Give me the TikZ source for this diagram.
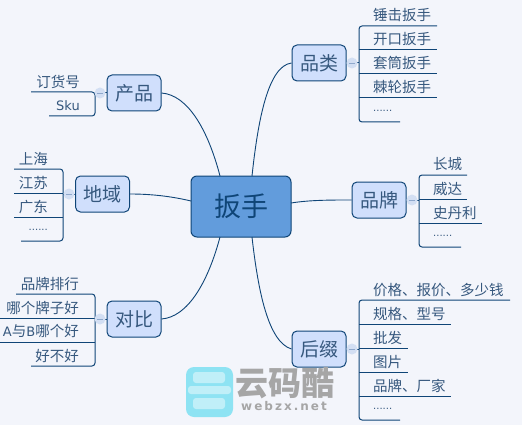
\documentclass[tikz,border=0pt]{standalone}
\usepackage{fontspec}
\setmainfont{Noto Sans CJK SC}
\newfontfamily\latinf{DejaVu Sans}
\definecolor{bgc}{HTML}{F3F5FB}
\definecolor{linec}{HTML}{0F4577}
\definecolor{branchc}{HTML}{D0DFFC}
\definecolor{centerc}{HTML}{629CDC}
\definecolor{textc}{HTML}{36587E}
\definecolor{togglec}{HTML}{D3DFF3}
\definecolor{markc}{HTML}{8FA8CC}
\definecolor{wmgray}{HTML}{A6A6A6}
\definecolor{wmicon}{HTML}{8EE3F3}
\tikzset{
  x=1pt,y=-1pt,
  centerbox/.style={draw=linec,line width=1pt,fill=centerc,rounded corners=6pt,minimum width=100pt,minimum height=61pt,inner sep=0pt,font=\fontsize{27}{27}\selectfont,text=linec},
  branchbox/.style={draw=linec,line width=1pt,fill=branchc,rounded corners=5pt,minimum width=54pt,minimum height=36pt,inner sep=0pt,font=\fontsize{19}{19}\selectfont,text=textc},
  leafr/.style={anchor=west,inner sep=0pt,font=\fontsize{14.5}{15}\selectfont,text=textc},
  leafl/.style={anchor=east,inner sep=0pt,font=\fontsize{14.5}{15}\selectfont,text=textc},
  dotsr/.style={anchor=west,inner sep=0pt,font=\latinf\fontsize{10}{10}\selectfont,text=textc},
  dotsl/.style={anchor=east,inner sep=0pt,font=\latinf\fontsize{10}{10}\selectfont,text=textc},
  togglemark/.style={circle,fill=togglec,minimum size=11pt,inner sep=0pt},
  tie/.style={draw=linec,line width=1pt},
  bracket/.style={draw=linec,line width=1pt,rounded corners=3pt},
  curvelink/.style={draw=linec,line width=0.9pt},
}
\begin{document}
\begin{tikzpicture}
\useasboundingbox (0,0) rectangle (522,425);
\fill[bgc] (0,0) rectangle (522,425);

% main nodes
\node[centerbox] (c) at (241,206.5) {扳手};
\node[branchbox] (pinlei) at (319,63) {品类};
\node[branchbox] (pinpai) at (379,200) {品牌};
\node[branchbox] (houzhui) at (319,349) {后缀};
\node[branchbox] (chanpin) at (134,93) {产品};
\node[branchbox] (diyu) at (102.5,194) {地域};
\node[branchbox] (duibi) at (134,319) {对比};

% curves
\coordinate (ct) at (252,176); \coordinate (ctl) at (220,176);
\coordinate (cb) at (252,237); \coordinate (cbl) at (220,237);
\coordinate (cl) at (191,201); \coordinate (cr) at (291,203);
\draw[curvelink] (ct) .. controls (258,120) and (268,66) .. (pinlei.west);
\draw[curvelink] (chanpin.east) .. controls (188,95) and (208,130) .. (ctl);
\draw[curvelink] (diyu.east) .. controls (150,194) and (170,196) .. (cl);
\draw[curvelink] (cr) .. controls (310,200) and (330,200) .. (pinpai.west);
\draw[curvelink] (duibi.east) .. controls (188,317) and (208,282) .. (cbl);
\draw[curvelink] (cb) .. controls (258,290) and (268,342) .. (houzhui.west);

% 品类
\coordinate (a1s) at (359,26); \coordinate (a1e) at (437,26);
\coordinate (a2s) at (359,50); \coordinate (a2e) at (437,50);
\coordinate (a3s) at (359,74); \coordinate (a3e) at (437,74);
\coordinate (a4s) at (359,98); \coordinate (a4e) at (437,98);
\coordinate (a5s) at (359,122); \coordinate (a5e) at (400,122);
\coordinate (aj) at (359,63);
\node[leafr] (a1) at (373,15) {锤击扳手};
\node[leafr] (a2) at (373,39) {开口扳手};
\node[leafr] (a3) at (373,63) {套筒扳手};
\node[leafr] (a4) at (373,87) {棘轮扳手};
\node[dotsr] (a5) at (373,111) {......};
\draw[bracket] (a1e) -- (a1s) -- (a5s) -- (a5e);
\draw[tie] (a2s) -- (a2e); \draw[tie] (a3s) -- (a3e); \draw[tie] (a4s) -- (a4e);
\draw[tie] (pinlei.east) -- (aj);
\node[togglemark] (at) at (352,63) {};
\draw[markc,line width=0.7pt] (at.west) ++(2.5,0) -- ++(6,0);

% 品牌
\coordinate (b1s) at (419,175); \coordinate (b1e) at (467,175);
\coordinate (b2s) at (419,199); \coordinate (b2e) at (467,199);
\coordinate (b3s) at (419,223); \coordinate (b3e) at (482,223);
\coordinate (b4s) at (419,247); \coordinate (b4e) at (461,247);
\coordinate (bj) at (419,200);
\node[leafr] (b1) at (433,164) {长城};
\node[leafr] (b2) at (433,189) {威达};
\node[leafr] (b3) at (433,213) {史丹利};
\node[dotsr] (b4) at (433,236) {......};
\draw[bracket] (b1e) -- (b1s) -- (b4s) -- (b4e);
\draw[tie] (b2s) -- (b2e); \draw[tie] (b3s) -- (b3e);
\draw[tie] (pinpai.east) -- (bj);
\node[togglemark] (bt) at (412,200) {};
\draw[markc,line width=0.7pt] (bt.west) ++(2.5,0) -- ++(6,0);

% 后缀
\coordinate (h1s) at (359,300); \coordinate (h1e) at (510,300);
\coordinate (h2s) at (359,324); \coordinate (h2e) at (451,324);
\coordinate (h3s) at (359,348); \coordinate (h3e) at (408,348);
\coordinate (h4s) at (359,372); \coordinate (h4e) at (408,372);
\coordinate (h5s) at (359,396); \coordinate (h5e) at (451,396);
\coordinate (h6s) at (359,420); \coordinate (h6e) at (400,420);
\coordinate (hj) at (359,349);
\node[leafr] (h1) at (373,290) {价格、报价、多少钱};
\node[leafr] (h2) at (373,314) {规格、型号};
\node[leafr] (h3) at (373,338) {批发};
\node[leafr] (h4) at (373,362) {图片};
\node[leafr] (h5) at (373,386) {品牌、厂家};
\node[dotsr] (h6) at (373,409) {......};
\draw[bracket] (h1e) -- (h1s) -- (h6s) -- (h6e);
\draw[tie] (h2s) -- (h2e); \draw[tie] (h3s) -- (h3e); \draw[tie] (h4s) -- (h4e); \draw[tie] (h5s) -- (h5e);
\draw[tie] (houzhui.east) -- (hj);
\node[togglemark] (ht) at (352,349) {};
\draw[markc,line width=0.7pt] (ht.west) ++(2.5,0) -- ++(6,0);

% 产品
\coordinate (p1s) at (95,92); \coordinate (p1e) at (31,92);
\coordinate (p2s) at (95,116); \coordinate (p2e) at (49,116);
\coordinate (pj) at (95,93);
\node[leafl] (p1) at (80,82) {订货号};
\node[leafl] (p2) at (80,106) {\latinf\fontsize{13}{13}\selectfont Sku};
\draw[bracket] (p1e) -- (p1s) -- (p2s) -- (p2e);
\draw[tie] (chanpin.west) -- (pj);
\node[togglemark] (pt) at (100,93) {};
\draw[markc,line width=0.7pt] (pt.west) ++(2.5,0) -- ++(6,0);

% 地域
\coordinate (d1s) at (63,169); \coordinate (d1e) at (14,169);
\coordinate (d2s) at (63,193); \coordinate (d2e) at (14,193);
\coordinate (d3s) at (63,217); \coordinate (d3e) at (14,217);
\coordinate (d4s) at (63,241); \coordinate (d4e) at (21,241);
\coordinate (dj) at (63,194);
\node[leafl] (d1) at (48,159) {上海};
\node[leafl] (d2) at (48,183) {江苏};
\node[leafl] (d3) at (48,207) {广东};
\node[dotsl] (d4) at (48,230) {......};
\draw[bracket] (d1e) -- (d1s) -- (d4s) -- (d4e);
\draw[tie] (d2s) -- (d2e); \draw[tie] (d3s) -- (d3e);
\draw[tie] (diyu.west) -- (dj);
\node[togglemark] (dt) at (69,194) {};
\draw[markc,line width=0.7pt] (dt.west) ++(2.5,0) -- ++(6,0);

% 对比
\coordinate (v1s) at (95,294); \coordinate (v1e) at (16,294);
\coordinate (v2s) at (95,318); \coordinate (v2e) at (0,318);
\coordinate (v3s) at (95,342); \coordinate (v3e) at (0,342);
\coordinate (v4s) at (95,366); \coordinate (v4e) at (31,366);
\coordinate (vj) at (95,319);
\node[leafl] (v1) at (79,284) {品牌排行};
\node[leafl] (v2) at (79,308) {哪个牌子好};
\node[leafl] (v3) at (79,331) {{\latinf\fontsize{13}{13}\selectfont A}与{\latinf\fontsize{13}{13}\selectfont B}哪个好};
\node[leafl] (v4) at (79,356) {好不好};
\draw[bracket] (v1e) -- (v1s) -- (v4s) -- (v4e);
\draw[tie] (v2s) -- (v2e); \draw[tie] (v3s) -- (v3e);
\draw[tie] (duibi.west) -- (vj);
\node[togglemark] (vt) at (100,319) {};
\draw[markc,line width=0.7pt] (vt.west) ++(2.5,0) -- ++(6,0);

% watermark
\fill[rounded corners=8pt,fill=wmicon] (186,367) rectangle (233,417);
\fill[rounded corners=3pt,fill=white,opacity=.45] (193,372) rectangle (225,383);
\fill[rounded corners=3pt,fill=white,opacity=.45] (188,386) rectangle (231,394);
\fill[rounded corners=3pt,fill=white,opacity=.45] (193,398) rectangle (225,409);
\node[anchor=center,inner sep=0pt,text=wmgray,font=\fontsize{33}{33}\selectfont\bfseries] (wm1) at (285,383) {云码酷};
\node[anchor=center,inner sep=0pt,text=wmgray,font=\latinf\fontsize{12}{12}\selectfont\bfseries] (wm2) at (284,406) {w\kern2pt e\kern2pt b\kern2pt z\kern2pt x\kern2pt .\kern2pt n\kern2pt e\kern2pt t};
\end{tikzpicture}
\end{document}
